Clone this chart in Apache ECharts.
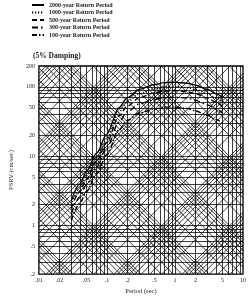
<!DOCTYPE html>
<html><head><meta charset="utf-8">
<script src="https://cdn.jsdelivr.net/npm/echarts@6/dist/echarts.min.js"></script>
<style>html,body{margin:0;padding:0;background:#fff}#c{width:250px;height:300px}</style>
</head><body><div id="c"></div>
<script>
// ---- data ----
const periods = [0.03, 0.04, 0.05, 0.07, 0.1, 0.15, 0.2, 0.3, 0.5, 0.7, 1, 1.5, 2, 3, 4, 5];
const psv2000 = [2.3, 4.0, 6.0, 11, 21, 50, 70, 92, 108, 115, 116, 113, 106, 92, 80, 70];
const psv1000 = [2.0, 3.5, 5.2, 9.5, 18, 43, 61, 80, 94, 100, 101, 98, 92, 80, 69, 60];
const psv500  = [1.8, 3.1, 4.6, 8.4, 16, 38, 53, 70, 82, 87, 88, 85, 80, 69, 60, 52];
const psv300  = [1.5, 2.6, 3.9, 7.0, 13.5, 31, 44, 57, 66, 70, 71, 69, 64, 55, 48, 42];
const psv100  = [1.2, 2.1, 3.1, 5.6, 10.5, 24, 33, 42, 48, 51, 51, 49, 45, 39, 34, 30];
const seriesNames = ['2000-year Return Period','1000-year Return Period','500-year Return Period','300-year Return Period','100-year Return Period'];
const xTickVals = [0.01,0.02,0.05,0.1,0.2,0.5,1,2,5,10];
const xTickText = ['.01','.02','.05','.1','.2','.5','1','2','5','10'];
const yTickVals = [0.2,0.5,1,2,5,10,20,50,100,200];
const yTickText = ['.2','.5','1','2','5','10','20','50','100','200'];
const xMin = 0.01, xMax = 10, yMin = 0.2, yMax = 200;

// ---- tripartite grid lines (computed) ----
const lx0 = Math.log10(xMin), lx1 = Math.log10(xMax), ly0 = Math.log10(yMin), ly1 = Math.log10(yMax);
const grid = [];
for (let n = -2; n <= 1; n++) for (let k = 1; k <= 9; k++) {
  const v = k * Math.pow(10, n);
  if (v > xMin * 1.0001 && v < xMax * 0.9999) grid.push({coords: [[v, yMin], [v, yMax]]});
}
for (let n = -1; n <= 2; n++) for (let k = 1; k <= 9; k++) {
  const v = k * Math.pow(10, n);
  if (v > yMin * 1.0001 && v < yMax * 0.9999) grid.push({coords: [[xMin, v], [xMax, v]]});
}
function addDiag(c, s) { // log y = s*log x + c
  let lo, hi;
  if (s > 0) { lo = Math.max(lx0, ly0 - c); hi = Math.min(lx1, ly1 - c); }
  else { lo = Math.max(lx0, c - ly1); hi = Math.min(lx1, c - ly0); }
  if (hi - lo > 1e-6) grid.push({coords: [[Math.pow(10, lo), Math.pow(10, s * lo + c)], [Math.pow(10, hi), Math.pow(10, s * hi + c)]]});
}
for (let n = -5; n <= 3; n++) for (let k = 1; k <= 9; k++) {
  const d = k * Math.pow(10, n);               // displacement, cm
  addDiag(Math.log10(2 * Math.PI * d), -1);
  const a = k * Math.pow(10, n);               // acceleration, g
  addDiag(Math.log10(981 * a / (2 * Math.PI)), 1);
}

const styles = [
  {type: 'solid'}, {type: [1.2, 1.8]}, {type: [5, 3]}, {type: [6, 3, 1.5, 3]}, {type: [5, 2, 1.5, 2]}
];
const vals = [psv2000, psv1000, psv500, psv300, psv100];
const curveSeries = vals.map((arr, i) => ({
  name: seriesNames[i], type: 'line', xAxisIndex: 0, yAxisIndex: 0,
  data: periods.map((p, j) => [p, arr[j]]), smooth: 0.3, smoothMonotone: 'x', symbol: 'none',
  itemStyle: {color: '#000'},
  lineStyle: Object.assign({color: '#000', width: 1.4}, styles[i]), z: 5
}));

const font = 'Liberation Serif';
const chart = echarts.init(document.getElementById('c'), null, {renderer: 'canvas'});
chart.setOption({
  animation: false,
  color: ['#000'],
  title: {text: '(5% Damping)', left: 28, top: 47, textStyle: {fontFamily: font, fontSize: 7.5, fontWeight: 'bold', color: '#222'}},
  legend: {
    data: seriesNames, orient: 'vertical', left: 31, top: 2, itemWidth: 12, itemHeight: 5, itemGap: 1.5, padding: 0,
    itemStyle: {opacity: 0},
    textStyle: {fontFamily: font, fontSize: 6, fontWeight: 'bold', color: '#222'}
  },
  grid: {left: 29, right: 7, top: 66, bottom: 23, show: true, borderColor: '#000', borderWidth: 1.3, backgroundColor: '#fff'},
  xAxis: [
    {type: 'log', min: xMin, max: xMax, logBase: 10, axisLine: {show: false}, axisTick: {show: false}, axisLabel: {show: false}, splitLine: {show: false}},
    {type: 'value', min: lx0, max: lx1, position: 'bottom', axisLine: {show: false}, axisTick: {show: false}, splitLine: {show: false},
     axisLabel: {customValues: xTickVals.map(Math.log10), margin: 3, fontFamily: font, fontSize: 6, color: '#222',
       formatter: v => { let b = 0; xTickVals.forEach((t, i) => { if (Math.abs(Math.log10(t) - v) < Math.abs(Math.log10(xTickVals[b]) - v)) b = i; }); return xTickText[b]; }},
     name: 'Period (sec)', nameLocation: 'middle', nameGap: 13, nameTextStyle: {fontFamily: font, fontSize: 6.5, color: '#222'}}
  ],
  yAxis: [
    {type: 'log', min: yMin, max: yMax, logBase: 10, axisLine: {show: false}, axisTick: {show: false}, axisLabel: {show: false}, splitLine: {show: false}},
    {type: 'value', min: ly0, max: ly1, position: 'left', axisLine: {show: false}, axisTick: {show: false}, splitLine: {show: false},
     axisLabel: {customValues: yTickVals.map(Math.log10), margin: 4, fontFamily: font, fontSize: 6, color: '#222',
       formatter: v => { let b = 0; yTickVals.forEach((t, i) => { if (Math.abs(Math.log10(t) - v) < Math.abs(Math.log10(yTickVals[b]) - v)) b = i; }); return yTickText[b]; }},
     name: 'PSRV (cm/sec)', nameLocation: 'middle', nameGap: 17, nameRotate: 90, nameTextStyle: {fontFamily: font, fontSize: 6.5, color: '#222'}}
  ],
  series: [
    {type: 'lines', coordinateSystem: 'cartesian2d', xAxisIndex: 0, yAxisIndex: 0, data: grid, silent: true,
     lineStyle: {color: '#000', width: 0.9, opacity: 0.85}, z: 1}
  ].concat(curveSeries)
});
</script></body></html>
